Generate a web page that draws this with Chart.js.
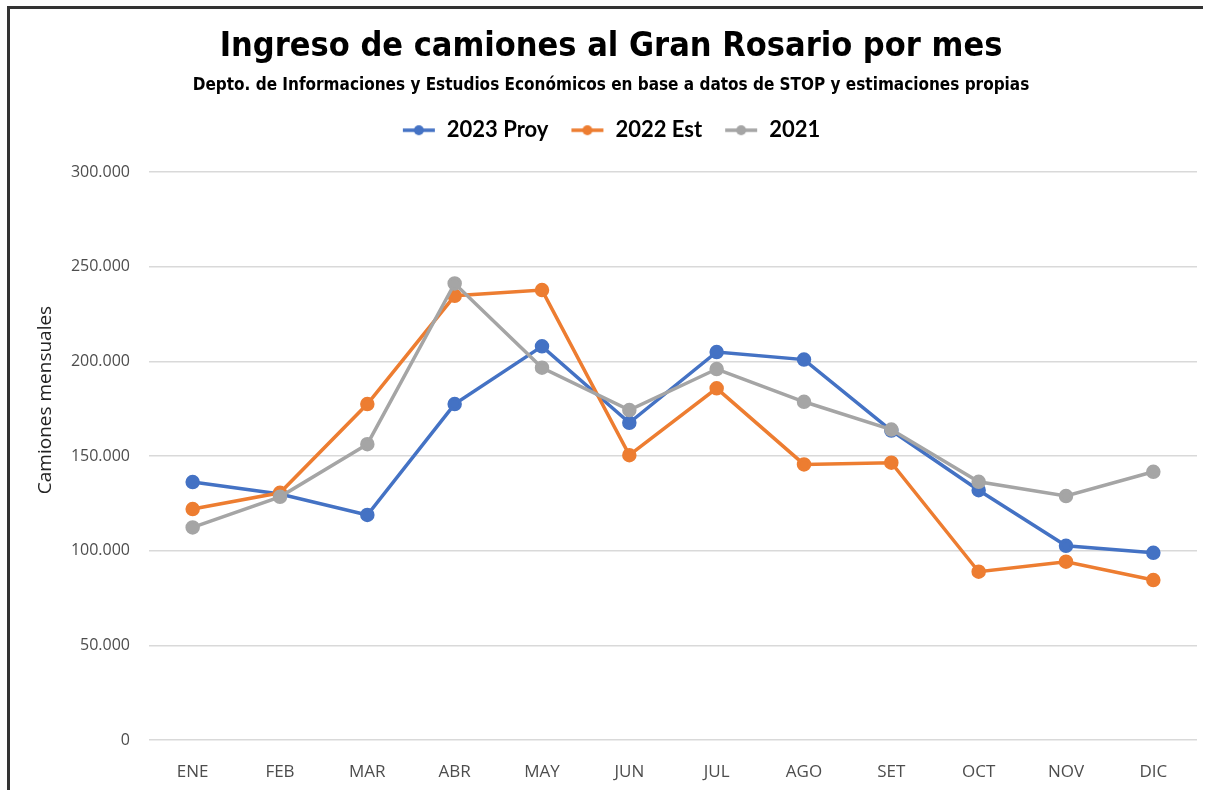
<!DOCTYPE html>
<html>
<head>
<meta charset="utf-8">
<script src="https://cdn.jsdelivr.net/npm/chart.js@4.4.1/dist/chart.umd.min.js"></script>
<style>
  html, body { margin: 0; padding: 0; background: #fff; overflow: hidden; width: 1211px; height: 790px; }
  #barTop { position: absolute; left: 7px; top: 6px; width: 1196px; height: 3px; background: #333; }
  #barLeft { position: absolute; left: 7px; top: 6px; width: 3px; height: 784px; background: #333; }
  #wrap { position: absolute; left: 0; top: 0; width: 1211px; height: 790px; }
</style>
</head>
<body>
<div id="barTop"></div><div id="barLeft"></div>
<div id="wrap"><canvas id="c" width="1211" height="790"></canvas></div>
<script>
const months = ['ENE','FEB','MAR','ABR','MAY','JUN','JUL','AGO','SET','OCT','NOV','DIC'];
const proy2023 = [136300, 130000, 118900, 177500, 208000, 167600, 205000, 201000, 163500, 132000, 102600, 98900];
const est2022  = [122000, 130600, 177500, 234700, 237700, 150500, 185800, 145600, 146500, 88900, 94200, 84500];
const y2021    = [112300, 128500, 156300, 241200, 196700, 174300, 196000, 178700, 164000, 136400, 128900, 141700];
const seriesNames = ['2023 Proy', '2022 Est', '2021'];
const seriesColors = ['#4472C4', '#ED7D31', '#A5A5A5'];
const yTicks = [0, 50000, 100000, 150000, 200000, 250000, 300000];
const yAxisTitle = 'Camiones mensuales';

function fmt(v) { return String(v).replace(/\B(?=(\d{3})+(?!\d))/g, '.'); }

function legendMarker(color) {
  const cv = document.createElement('canvas');
  cv.width = 34; cv.height = 14;
  const g = cv.getContext('2d');
  g.strokeStyle = color; g.lineWidth = 3.5;
  g.beginPath(); g.moveTo(1, 7); g.lineTo(33, 7); g.stroke();
  g.fillStyle = color;
  g.beginPath(); g.arc(17, 7, 5, 0, Math.PI * 2); g.fill();
  return cv;
}
const markers = seriesColors.map(legendMarker);

const datasets = [proy2023, est2022, y2021].map((d, i) => ({
  label: seriesNames[i],
  data: d,
  borderColor: seriesColors[i],
  backgroundColor: seriesColors[i],
  borderWidth: 3.5,
  pointRadius: 5.5,
  pointHoverRadius: 5.5,
  tension: 0,
  order: 3 - i
}));

const legendSpacer = {
  id: 'legendSpacer',
  afterInit(chart) {
    const lg = chart.legend;
    if (lg) {
      const orig = lg.fit;
      lg.fit = function () { orig.call(this); this.height += 21; };
    }
  }
};

const axisTitle = {
  id: 'axisTitle',
  afterDraw(chart) {
    const ctx = chart.ctx;
    ctx.save();
    ctx.translate(46, 400);
    ctx.rotate(-Math.PI / 2);
    ctx.font = "19px 'Open Sans', sans-serif";
    ctx.fillStyle = '#222';
    ctx.textAlign = 'center';
    ctx.textBaseline = 'middle';
    ctx.fillText(yAxisTitle, 0, 0);
    ctx.restore();
  }
};

new Chart(document.getElementById('c'), {
  type: 'line',
  data: { labels: months, datasets },
  plugins: [legendSpacer, axisTitle],
  options: {
    responsive: false,
    animation: false,
    layout: { padding: { left: 25, right: 14, top: 0, bottom: 0 } },
    plugins: {
      title: {
        display: true,
        text: 'Ingreso de camiones al Gran Rosario por mes',
        color: '#000',
        font: { family: "'DejaVu Sans Condensed', 'Liberation Sans Narrow', sans-serif", size: 34, weight: 'bold', lineHeight: 1.2 },
        padding: { top: 27, bottom: 0 }
      },
      subtitle: {
        display: true,
        text: 'Depto. de Informaciones y Estudios Económicos en base a datos de STOP y estimaciones propias',
        color: '#000',
        font: { family: "'DejaVu Sans Condensed', 'Liberation Sans Narrow', sans-serif", size: 17, weight: 'bold', lineHeight: 1.2 },
        padding: { top: 8, bottom: 1 }
      },
      legend: {
        display: true,
        position: 'top',
        labels: {
          color: '#000',
          font: { family: "Lato, 'Open Sans', sans-serif", size: 22, weight: 'bold' },
          usePointStyle: true,
          pointStyleWidth: 34,
          padding: 22,
          generateLabels: (chart) => chart.data.datasets.map((ds, i) => ({
            text: ds.label,
            fillStyle: ds.borderColor,
            strokeStyle: ds.borderColor,
            lineWidth: 0,
            pointStyle: markers[i],
            datasetIndex: i,
            hidden: false,
            fontColor: '#000'
          }))
        }
      },
      tooltip: { enabled: false }
    },
    scales: {
      x: {
        offset: true,
        grid: { display: false },
        border: { display: false },
        ticks: { color: '#4d4d4d', font: { family: "'Open Sans', sans-serif", size: 17 }, padding: 14, maxRotation: 0 },
        afterFit: (s) => { s.height = 50; }
      },
      y: {
        min: 0, max: 300000,
        afterBuildTicks: (s) => { s.ticks = yTicks.map(v => ({ value: v })); },
        grid: { color: '#d9d9d9', lineWidth: 1.5, drawTicks: false },
        border: { display: false },
        ticks: { color: '#4d4d4d', font: { family: "'Open Sans', sans-serif", size: 16 }, padding: 19, callback: (v) => fmt(v) },
        title: { display: false },
        afterFit: (s) => { s.width = 124; }
      }
    }
  }
});
</script>
</body>
</html>
